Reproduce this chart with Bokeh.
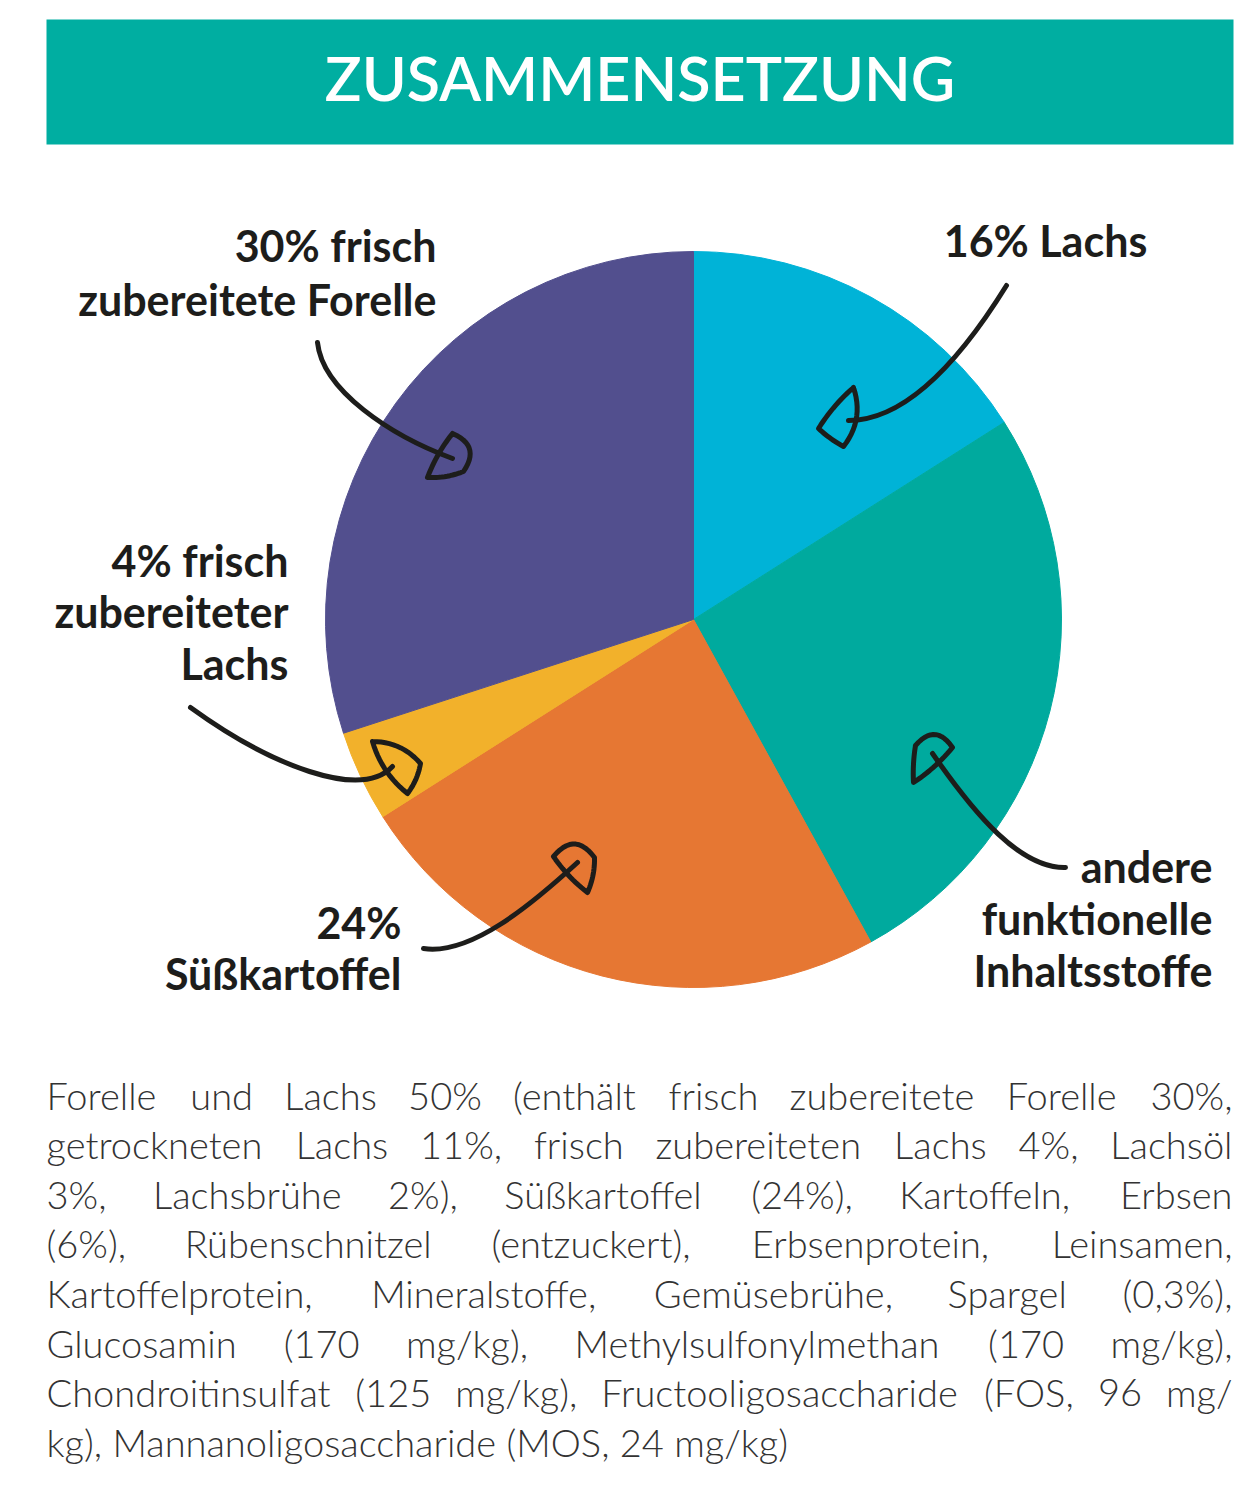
import os, glob, struct
import numpy as np
from bokeh.plotting import figure
from bokeh.models import Range1d
from bokeh.embed import file_html
from bokeh.resources import INLINE
from bokeh.core.properties import value

# ---------------- data ----------------
title = "ZUSAMMENSETZUNG"
categories = ["Lachs", "andere funktionelle Inhaltsstoffe", "Süßkartoffel",
              "frisch zubereiteter Lachs", "frisch zubereitete Forelle"]
shares = [16, 26, 24, 4, 30]
colors = ["#00B3D7", "#00AA9E", "#E67733", "#F2B12B", "#524F8E"]
label_lines = [
    ["16% Lachs"],
    ["andere", "funktionelle", "Inhaltsstoffe"],
    ["24%", "Süßkartoffel"],
    ["4% frisch", "zubereiteter", "Lachs"],
    ["30% frisch", "zubereitete Forelle"],
]
paragraph_lines = [
    "Forelle und Lachs 50% (enthält frisch zubereitete Forelle 30%,",
    "getrockneten Lachs 11%, frisch zubereiteten Lachs 4%, Lachsöl",
    "3%, Lachsbrühe 2%), Süßkartoffel (24%), Kartoffeln, Erbsen",
    "(6%), Rübenschnitzel (entzuckert), Erbsenprotein, Leinsamen,",
    "Kartoffelprotein, Mineralstoffe, Gemüsebrühe, Spargel (0,3%),",
    "Glucosamin (170 mg/kg), Methylsulfonylmethan (170 mg/kg),",
    "Chondroitinsulfat (125 mg/kg), Fructooligosaccharide (FOS, 96 mg/",
    "kg), Mannanoligosaccharide (MOS, 24 mg/kg)",
]

# ---------------- font metrics (for justified text) ----------------
def find_font(name):
    cands = sorted(glob.glob("/usr/share/fonts/**/" + name, recursive=True))
    pref = [c for c in cands if "/lato/" in c]
    return (pref or cands or [None])[0]

def load_widths(path):
    try:
        data = open(path, "rb").read()
        n = struct.unpack(">H", data[4:6])[0]
        tabs = {}
        for i in range(n):
            tag, cs, off, ln = struct.unpack(">4sIII", data[12 + 16 * i:28 + 16 * i])
            tabs[tag.decode("latin1")] = off
        h = tabs["head"]
        upem = struct.unpack(">H", data[h + 18:h + 20])[0]
        hh = tabs["hhea"]
        nhm = struct.unpack(">H", data[hh + 34:hh + 36])[0]
        hm = tabs["hmtx"]
        adv = [struct.unpack(">H", data[hm + 4 * i:hm + 4 * i + 2])[0] for i in range(nhm)]
        cm = tabs["cmap"]
        nsub = struct.unpack(">H", data[cm + 2:cm + 4])[0]
        o = None
        for i in range(nsub):
            pid, eid, off = struct.unpack(">HHI", data[cm + 4 + 8 * i:cm + 12 + 8 * i])
            fmt = struct.unpack(">H", data[cm + off:cm + off + 2])[0]
            if fmt == 4:
                o = cm + off
                break
        s2 = struct.unpack(">H", data[o + 6:o + 8])[0]
        seg = s2 // 2
        ends = struct.unpack(">%dH" % seg, data[o + 14:o + 14 + s2])
        starts = struct.unpack(">%dH" % seg, data[o + 16 + s2:o + 16 + 2 * s2])
        deltas = struct.unpack(">%dh" % seg, data[o + 16 + 2 * s2:o + 16 + 3 * s2])
        rp = o + 16 + 3 * s2
        roffs = struct.unpack(">%dH" % seg, data[rp:rp + s2])

        def gid(c):
            for k in range(seg):
                if starts[k] <= c <= ends[k]:
                    if roffs[k] == 0:
                        return (c + deltas[k]) & 0xFFFF
                    a = rp + 2 * k + roffs[k] + 2 * (c - starts[k])
                    g = struct.unpack(">H", data[a:a + 2])[0]
                    return (g + deltas[k]) & 0xFFFF if g else 0
            return 0

        def width(s):
            t = 0
            for ch in s:
                g = gid(ord(ch))
                t += adv[g] if g < nhm else adv[-1]
            return t / upem
        return width
    except Exception:
        return lambda s: 0.5 * len(s)

w_light = load_widths(find_font("Lato-Light.ttf"))

# ---------------- canvas ----------------
W, H = 1257, 1493
KB = 0.42  # baseline correction (fraction of font size)

def Y(y):
    return H - np.asarray(y, dtype=float)

def YB(y, size):
    return Y(np.asarray(y, dtype=float) - KB * size)

p = figure(width=W, height=H, x_range=Range1d(0, W), y_range=Range1d(0, H),
           x_axis_type=None, y_axis_type=None, output_backend="svg",
           toolbar_location=None, min_border=0)
p.grid.visible = False
p.outline_line_color = None
p.background_fill_color = "white"
p.border_fill_color = "white"

# title banner
TS = 61
p.quad(left=[46], right=[1233], top=Y([19]), bottom=Y([144]),
       fill_color="#00AEA1", line_color=None)
p.text(x=[639.5], y=YB([103], TS), text=[title], text_font=value("Lato Semibold"),
       text_font_size="%dpx" % TS, text_color="white", text_align="center",
       text_baseline="alphabetic")

# ---------------- pie ----------------
cx, cy, R = 693, 619, 368
frac = np.array(shares, dtype=float) / sum(shares)
cum = np.concatenate([[0], np.cumsum(frac)])
start = np.pi / 2 - 2 * np.pi * cum[1:]
end = np.pi / 2 - 2 * np.pi * cum[:-1]
p.wedge(x=[cx] * len(shares), y=Y([cy] * len(shares)), radius=R,
        start_angle=start, end_angle=end, direction="anticlock",
        fill_color=colors, line_color=colors, line_width=1)

# ---------------- arrows (hand-drawn style) ----------------
ink = "#1d1d1b"
arrows = [  # P0, C1, C2, P3 (pixel coords, y down)
    ((1006, 285), (975, 335), (915, 420), (848, 420)),
    ((1065, 867), (1020, 868), (975, 815), (932, 753)),
    ((423, 948), (470, 955), (530, 905), (577, 862)),
    ((190, 707), (270, 765), (360, 800), (392, 766)),
    ((317, 342), (322, 390), (390, 435), (452, 458)),
]
heads = [  # three corners and outward bulge of each edge (AB, BC, CA)
    ((853, 387), (818, 428), (843, 446), (2, 1, 8)),
    ((915, 745), (913, 782), (952, 747), (1, 2, 12)),
    ((553, 856), (587, 892), (594, 857), (2, 2, 13)),
    ((372, 741), (420, 763), (407, 793), (6, 2, 5)),
    ((452, 433), (427, 477), (463, 471), (2, 2, 12)),
]
for (a, c1, c2, b) in arrows:
    p.bezier(x0=[a[0]], y0=Y([a[1]]), x1=[b[0]], y1=Y([b[1]]),
             cx0=[c1[0]], cy0=Y([c1[1]]), cx1=[c2[0]], cy1=Y([c2[1]]),
             line_color=ink, line_width=5, line_cap="round")

def head_outline(A, B, C, bul):
    pts = [np.array(A, float), np.array(B, float), np.array(C, float)]
    cen = sum(pts) / 3
    xs, ys = [], []
    for i in range(3):
        P0, P1 = pts[i], pts[(i + 1) % 3]
        M = (P0 + P1) / 2
        d = P1 - P0
        nrm = np.array([-d[1], d[0]]) / np.hypot(*d)
        if np.dot(nrm, M - cen) < 0:
            nrm = -nrm
        Q = M + nrm * 2 * bul[i]
        t = np.linspace(0, 1, 14)[:, None]
        seg = (1 - t) ** 2 * P0 + 2 * (1 - t) * t * Q + t ** 2 * P1
        xs += list(seg[:, 0])
        ys += list(seg[:, 1])
    xs.append(xs[0]); ys.append(ys[0])
    return xs, ys

hx, hy = [], []
for (A, B, C, bul) in heads:
    xs, ys = head_outline(A, B, C, bul)
    hx.append(xs); hy.append(list(Y(ys)))
p.multi_line(xs=hx, ys=hy, line_color=ink, line_width=5, line_join="round", line_cap="round")

# ---------------- labels ----------------
LS = 43
label_pos = [  # anchor x, baselines, alignment
    (1045, [258], "center"),
    (1212, [884, 936, 988], "right"),
    (401, [940, 991], "right"),
    (288, [578, 629, 681], "right"),
    (436, [263, 317], "right"),
]
for lines, (lx, bls, al) in zip(label_lines, label_pos):
    p.text(x=[lx] * len(lines), y=YB(bls, LS), text=lines, text_font=value("Lato"),
           text_font_style="bold", text_font_size="%dpx" % LS, text_color=ink,
           text_align=al, text_baseline="alphabetic")

# ---------------- justified paragraph ----------------
x0, x1 = 46, 1232
base0, lead = 1110, 49.6
nat7 = w_light(paragraph_lines[6])
body = min(38.0, (x1 - x0 - 4) / nat7) if nat7 > 0 else 36.0
lx_, ly_, lt_ = [], [], []
rx_, ry_, rt_ = [], [], []
for i, line in enumerate(paragraph_lines):
    yb = base0 + i * lead
    words = line.split(" ")
    if i == len(paragraph_lines) - 1 or len(words) < 2:
        lx_.append(x0); ly_.append(yb); lt_.append(line)
        continue
    ws = [w_light(w) * body for w in words]
    gap = (x1 - x0 - sum(ws)) / (len(words) - 1)
    x = x0
    for j, (w, ww) in enumerate(zip(words, ws)):
        if j == len(words) - 1:
            rx_.append(x1); ry_.append(yb); rt_.append(w)
        else:
            lx_.append(x); ly_.append(yb); lt_.append(w)
        x += ww + gap
common = dict(text_font=value("Lato Light"), text_font_size="%.1fpx" % body,
              text_color="#333333", text_baseline="alphabetic")
p.text(x=lx_, y=YB(ly_, body), text=lt_, text_align="left", **common)
p.text(x=rx_, y=YB(ry_, body), text=rt_, text_align="right", **common)

open("out.html", "w").write(file_html(p, INLINE))
